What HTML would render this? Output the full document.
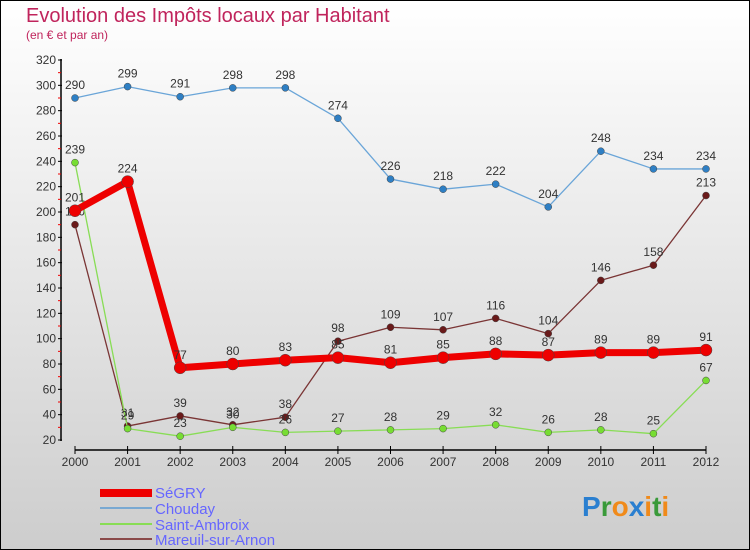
<!DOCTYPE html>
<html><head><meta charset="utf-8"><style>
body{margin:0}
svg{display:block;font-family:"Liberation Sans",sans-serif}
</style></head><body>
<svg id="c" width="750" height="550">
<defs><linearGradient id="bg" x1="0" y1="0" x2="0" y2="1"><stop offset="0" stop-color="#ffffff"/><stop offset="1" stop-color="#cdcdcd"/></linearGradient></defs>
<rect x="0.5" y="0.5" width="749" height="549" fill="url(#bg)" stroke="#000"/>
<text x="26" y="22" font-size="20" fill="#c0245c">Evolution des Impôts locaux par Habitant</text>
<text x="26" y="39" font-size="12" fill="#c0245c">(en € et par an)</text>
<g id="axes"></g><g id="series"></g>
<g>
<rect x="100" y="489" width="52" height="8" fill="#e00"/>
<text x="155" y="498" font-size="15" fill="#6666ff">SéGRY</text>
<line x1="100" y1="508" x2="152" y2="508" stroke="#79a9d2" stroke-width="2"/>
<text x="155" y="514" font-size="15" fill="#6666ff">Chouday</text>
<line x1="100" y1="524" x2="152" y2="524" stroke="#88dd55" stroke-width="2"/>
<text x="155" y="530" font-size="15" fill="#6666ff">Saint-Ambroix</text>
<line x1="100" y1="539" x2="152" y2="539" stroke="#8a4a4a" stroke-width="2"/>
<text x="155" y="545" font-size="15" fill="#6666ff">Mareuil-sur-Arnon</text>
</g>
<text x="582" y="516" font-size="28" font-weight="bold"><tspan fill="#2a7fd0">P</tspan><tspan fill="#3a9a3a">r</tspan><tspan fill="#f08a1a">o</tspan><tspan fill="#2a7fd0">x</tspan><tspan fill="#f08a1a">i</tspan><tspan fill="#3a9a3a">t</tspan><tspan fill="#f08a1a">i</tspan></text>
</svg>
<script>
const years=[2000,2001,2002,2003,2004,2005,2006,2007,2008,2009,2010,2011,2012];
const segry=[201,224,77,80,83,85,81,85,88,87,89,89,91];
const chouday=[290,299,291,298,298,274,226,218,222,204,248,234,234];
const ambroix=[239,29,23,30,26,27,28,29,32,26,28,25,67];
const mareuil=[190,31,39,32,38,98,109,107,116,104,146,158,213];
const yTicks=[20,40,60,80,100,120,140,160,180,200,220,240,260,280,300,320];
const NS="http://www.w3.org/2000/svg";
const X=i=>75+i*(706-75)/(years.length-1);
const Y=v=>440-(v-20)*380/300;
function mk(t,a,p){const e=document.createElementNS(NS,t);for(const k in a)e.setAttribute(k,a[k]);p.appendChild(e);return e;}
const ax=document.getElementById('axes');
const yl=mk('line',{x1:61,y1:59,x2:61,y2:441,stroke:'#000','stroke-width':1.5},ax);


const xl=mk('line',{x1:75,y1:450,x2:706,y2:450,stroke:'#000','stroke-width':1.5},ax);


yTicks.forEach(v=>{
 mk('line',{x1:58,y1:Y(v),x2:62,y2:Y(v),stroke:'#000'},ax);
 if(v<320) mk('line',{x1:58,y1:Y(v+10),x2:61,y2:Y(v+10),stroke:'#e00'},ax);
 const t=mk('text',{x:56,y:Y(v)+4,'text-anchor':'end','font-size':12,fill:'#333'},ax);
 t.textContent=v;
 
 
});
years.forEach((y,i)=>{
 mk('line',{x1:X(i),y1:446,x2:X(i),y2:454,stroke:'#000'},ax);
 const t=mk('text',{x:X(i),y:466,'text-anchor':'middle','font-size':12,fill:'#333'},ax);
 t.textContent=y;
 
 
});
const sg=document.getElementById('series');
function series(vals,color,dot,w,r,name){
 const g=mk('g',{},sg);
 
 
 const pl=mk('polyline',{points:vals.map((v,i)=>X(i)+','+Y(v)).join(' '),fill:'none',stroke:color,'stroke-width':w,'stroke-linejoin':'round'},g);
 
 
 vals.forEach((v,i)=>{
  const c=mk('circle',{cx:X(i),cy:Y(v),r:r,fill:dot,stroke:'#444','stroke-width':0.5},g);
  
  
  const t=mk('text',{x:X(i),y:Y(v)-9,'text-anchor':'middle','font-size':12,fill:'#333'},g);
  t.textContent=v;
  
  
 });
}
series(mareuil,'#7a3535','#6a1a1a',1.3,3.5,'mareuil-sur-arnon');
series(ambroix,'#88dd55','#77dd33',1.3,3.5,'saint-ambroix');
series(chouday,'#6aa5d8','#2e7fc4',1.3,3.5,'chouday');
series(segry,'#ee0000','#ee0000',7,6,'segry');
</script>
</body></html>
